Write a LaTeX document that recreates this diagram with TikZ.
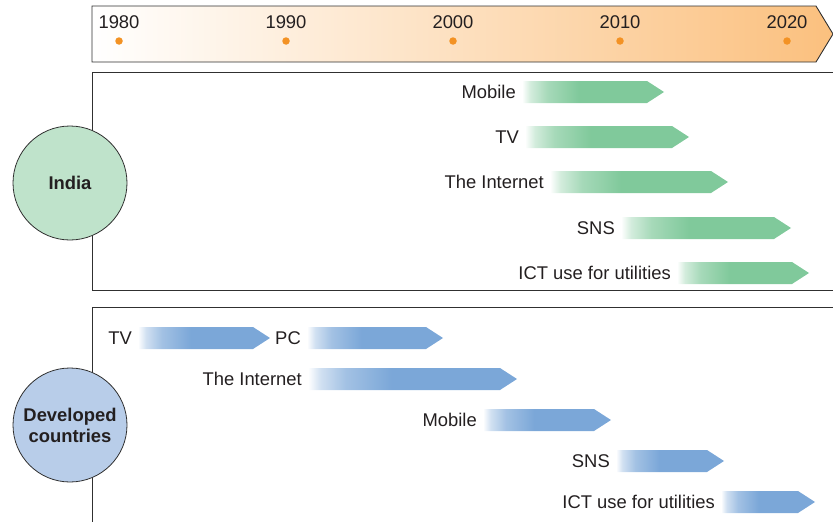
\documentclass[tikz,border=0pt]{standalone}
\usepackage{fontspec}
\setmainfont{Liberation Sans}
\definecolor{ink}{HTML}{231F20}
\definecolor{rule}{HTML}{303030}
\definecolor{tlorange}{HTML}{FBC07E}
\definecolor{dotorange}{HTML}{F39224}
\definecolor{bargreen}{HTML}{80C99B}
\definecolor{barblue}{HTML}{7BA7D8}
\definecolor{indiafill}{HTML}{BFE3CB}
\definecolor{devfill}{HTML}{B8CDE9}
% horizontal fades: pale at the start of a bar, full colour after about a third
\pgfdeclarehorizontalshading{greenfade}{100bp}{color(0bp)=(white); color(25bp)=(white); color(28bp)=(bargreen!35); color(34bp)=(bargreen!70); color(45bp)=(bargreen); color(100bp)=(bargreen)}
\pgfdeclarehorizontalshading{bluefade}{100bp}{color(0bp)=(white); color(25bp)=(white); color(28bp)=(barblue!35); color(34bp)=(barblue!70); color(45bp)=(barblue); color(100bp)=(barblue)}
\tikzset{
  txt/.style={font=\fontsize{18.4}{21}\selectfont, text=ink, inner sep=0pt},
  lbl/.style={txt, anchor=east},
  year/.style={txt},
  tick/.style={fill=dotorange, draw=none, circle, minimum size=7.5pt, inner sep=0pt},
  frame/.style={draw=rule, line width=0.9pt},
  region/.style={circle, draw=rule, line width=0.8pt, minimum size=114pt, inner sep=0pt,
    align=center, font=\fontsize{18.4}{21}\selectfont\bfseries, text=ink},
  greenbar/.style={shading=greenfade},
  bluebar/.style={shading=bluefade},
}
% #1 bar style, #2 start x, #3 tip x, #4 centre y, #5 node name, #6 label
\newcommand\techbar[6]{%
  \path[#1] (#2,#4-11) -- (#3-17,#4-11) -- (#3,#4) -- (#3-17,#4+11) -- (#2,#4+11) -- cycle;
  \node[lbl] (#5) at (#2-6,#4) {#6};}
\begin{document}
\begin{tikzpicture}[x=1pt, y=-1pt]
\useasboundingbox (0,0) rectangle (833,522);

% time axis
\path[frame, left color=white, right color=tlorange]
  (92,6) -- (816,6) -- (833,34) -- (816,62) -- (92,62) -- cycle;
\foreach \yr/\x in {1980/119, 1990/286, 2000/453, 2010/620, 2020/787} {
  \node[year] (y\yr) at (\x,22) {\yr};
  \node[tick] (d\yr) at (\x,41) {};
}

% India panel
\draw[frame] (840,72) -- (92,72) -- (92,290) -- (840,290);
\node[region, fill=indiafill] (india) at (70,183) {India};
\techbar{greenbar}{522}{664}{92}{inMobile}{Mobile}
\techbar{greenbar}{525}{689}{137}{inTV}{TV}
\techbar{greenbar}{550}{728}{182}{inNet}{The Internet}
\techbar{greenbar}{621}{791}{228}{inSNS}{SNS}
\techbar{greenbar}{677}{809}{273}{inICT}{ICT use for utilities}

% developed-country panel
\draw[frame] (840,307) -- (92,307) -- (92,530);
\node[region, fill=devfill] (developed) at (70,425) {Developed\\countries};
\techbar{bluebar}{138}{270}{338}{dvTV}{TV}
\techbar{bluebar}{307}{443}{338}{dvPC}{PC}
\techbar{bluebar}{308}{517}{379}{dvNet}{The Internet}
\techbar{bluebar}{483}{611}{420}{dvMobile}{Mobile}
\techbar{bluebar}{616}{724}{461}{dvSNS}{SNS}
\techbar{bluebar}{721}{815}{502}{dvICT}{ICT use for utilities}
\end{tikzpicture}
\end{document}
